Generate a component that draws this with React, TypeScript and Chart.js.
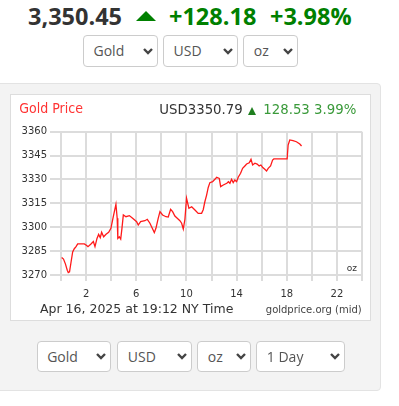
import React, { useEffect, useRef } from "react";
import { Chart, registerables } from "chart.js";

Chart.register(...registerables);

// ---- data (hours of NY trading day, USD/oz) ----
const hours = [
  0.05, 0.2, 0.35, 0.5, 0.58, 0.68, 0.8, 0.93, 1.06, 1.2, 1.33, 1.6, 1.86, 2.05, 2.15, 2.39, 2.58, 2.71, 2.87, 3.0,
  3.13, 3.24, 3.4, 3.59, 3.8, 3.98, 4.17, 4.38, 4.48, 4.53, 4.65, 4.76, 4.86, 4.97, 5.18, 5.45, 5.71, 6.03, 6.16, 6.35,
  6.69, 6.88, 7.09, 7.28, 7.44, 7.57, 7.75, 7.89, 8.1, 8.37, 8.55, 8.74, 8.9, 9.08, 9.27, 9.48, 9.62, 9.75, 9.88, 10.01,
  10.2, 10.42, 10.68, 10.94, 11.21, 11.34, 11.47, 11.61, 11.74, 11.87, 12.09, 12.27, 12.41, 12.62, 12.73, 12.94, 13.22,
  13.35, 13.47, 13.6, 13.73, 13.86, 14.0, 14.13, 14.32, 14.48, 14.66, 14.8, 15.01, 15.15, 15.28, 15.46, 15.64, 15.8,
  15.94, 16.07, 16.25, 16.39, 16.52, 16.71, 16.87, 16.97, 18.03, 18.11, 18.24, 18.5, 18.77, 19.04, 19.18,
];
const prices = [
  3281, 3280, 3277, 3273, 3271.5, 3272, 3278, 3284.5, 3286.5, 3287.8, 3289.5, 3289.5, 3289.5, 3288.5, 3287.8, 3289.5,
  3291, 3287.8, 3293, 3295.5, 3293.4, 3296.8, 3294, 3295.6, 3296.8, 3299.3, 3306.6, 3314.4, 3305.6, 3293, 3294, 3292.6,
  3299.3, 3307.7, 3306.6, 3307.3, 3305.6, 3303.5, 3301.4, 3303.5, 3304.1, 3305, 3302.5, 3299.3, 3296.6, 3299.3, 3305.6,
  3309.8, 3307.7, 3306.6, 3306.4, 3311.3, 3309.8, 3307, 3305.6, 3304.1, 3302.5, 3298.9, 3305, 3318.2, 3311.9, 3312.9,
  3310.8, 3308.7, 3308.7, 3311, 3316, 3320.2, 3325, 3328, 3328.6, 3330.1, 3331.4, 3330.7, 3325.5, 3326.5, 3327.6,
  3328.6, 3327.6, 3330.1, 3328, 3329.7, 3328.6, 3331.4, 3333.9, 3337, 3338.5, 3339.7, 3340.5, 3342.7, 3339.1, 3340.2,
  3339.7, 3338.5, 3339.1, 3337.6, 3336.4, 3335.3, 3337, 3338.5, 3342.2, 3342.9, 3342.9, 3351.6, 3354.8, 3354.4,
  3353.7, 3352.3, 3351,
];
const yMin = 3270;
const yMax = 3360;
const yStep = 15;
const xMin = 0;
const xMax = 24;
const xStep = 2;
const xLabelHours = [2, 6, 10, 14, 18, 22];

const headerPrice = "3,350.45";
const headerChange = "+128.18";
const headerPct = "+3.98%";
const chartTitle = "Gold Price";
const chartPrice = "USD3350.79";
const chartChange = "128.53 3.99%";
const dateText = "Apr 16, 2025 at 19:12 NY Time";
const sourceText = "goldprice.org (mid)";

const OPEN = "'Open Sans', sans-serif";
const DEJA = "'DejaVu Sans', sans-serif";

function Chevron({ left, top }: { left: number; top: number }) {
  return (
    <svg style={{ position: "absolute", left, top }} width={10} height={7}>
      <polyline points="1,1 5,5 9,1" fill="none" stroke="#444" strokeWidth={2.4} />
    </svg>
  );
}

function Select({ left, top, width, height, label }: { left: number; top: number; width: number; height: number; label: string }) {
  return (
    <div
      style={{
        position: "absolute",
        left,
        top,
        width,
        height,
        boxSizing: "border-box",
        border: "1px solid #ccc",
        borderRadius: 4,
        background: "#fff",
      }}
    >
      <div
        style={{
          position: "absolute",
          left: 9.5,
          top: -1,
          height,
          lineHeight: height + "px",
          fontFamily: OPEN,
          fontSize: 14,
          color: "#555",
          whiteSpace: "nowrap",
        }}
      >
        {label}
      </div>
      <Chevron left={width - 16} top={height / 2 - 4.5} />
    </div>
  );
}

function GoldChart() {
  const ref = useRef<HTMLCanvasElement | null>(null);
  useEffect(() => {
    if (!ref.current) return;
    const data = hours.map((h, i) => ({ x: h, y: prices[i] }));
    const gridColor = "#dcdcdc";
    const chart = new Chart(ref.current, {
      type: "line",
      data: {
        datasets: [
          {
            data,
            borderColor: "#ff1a1a",
            borderWidth: 1.3,
            pointRadius: 0,
            tension: 0,
            fill: false,
          },
        ],
      },
      options: {
        animation: false,
        responsive: false,
        events: [],
        layout: { padding: { left: 0, right: 8, top: 36.7, bottom: 0 } },
        plugins: { legend: { display: false }, tooltip: { enabled: false }, title: { display: false } },
        scales: {
          x: {
            type: "linear",
            min: xMin,
            max: xMax,
            afterFit: (s: any) => {
              s.height = 45;
            },
            ticks: {
              stepSize: xStep,
              autoSkip: false,
              maxRotation: 0,
              padding: 7,
              color: "#333",
              font: { family: "DejaVu Sans", size: 10 },
              callback: (v: any) => (xLabelHours.includes(Number(v)) ? String(v) : ""),
            },
            grid: { color: gridColor, lineWidth: 2, tickLength: 6, tickColor: gridColor },
            border: { display: false },
          },
          y: {
            min: yMin,
            max: yMax,
            afterFit: (s: any) => {
              s.width = 50;
            },
            ticks: {
              stepSize: yStep,
              padding: 3,
              color: "#333",
              font: { family: "DejaVu Sans", size: 10 },
              callback: (v: any) => String(v),
            },
            grid: { color: gridColor, lineWidth: 2, tickLength: 11, tickColor: gridColor },
            border: { display: false },
          },
        },
      },
    });
    return () => chart.destroy();
  }, []);
  return <canvas ref={ref} width={359} height={225} style={{ position: "absolute", left: 11, top: 95, width: 359, height: 225 }} />;
}

export default function App() {
  const green = "#008000";
  return (
    <div style={{ position: "absolute", left: 0, top: 0, width: 399, height: 406, overflow: "hidden", background: "#fff" }}>
      {/* header */}
      <div style={{ position: "absolute", left: 28, top: 4.8, fontFamily: OPEN, fontWeight: 700, fontSize: 23.5, lineHeight: "23.5px", color: "#333", whiteSpace: "nowrap" }}>
        {headerPrice}
      </div>
      <div
        style={{
          position: "absolute",
          left: 135.5,
          top: 11,
          width: 0,
          height: 0,
          borderLeft: "10.5px solid transparent",
          borderRight: "10.5px solid transparent",
          borderBottom: "10px solid " + green,
        }}
      />
      <div style={{ position: "absolute", left: 169, top: 4.8, fontFamily: OPEN, fontWeight: 700, fontSize: 23.5, lineHeight: "23.5px", color: green, whiteSpace: "nowrap" }}>
        {headerChange}
      </div>
      <div style={{ position: "absolute", left: 270, top: 4.8, fontFamily: OPEN, fontWeight: 700, fontSize: 23.5, lineHeight: "23.5px", color: green, whiteSpace: "nowrap" }}>
        {headerPct}
      </div>

      <Select left={83} top={35} width={74.5} height={32} label="Gold" />
      <Select left={163} top={35} width={75.3} height={32} label="USD" />
      <Select left={243.3} top={35} width={54.4} height={32} label="oz" />

      {/* panel */}
      <div
        style={{
          position: "absolute",
          left: -5,
          top: 83.3,
          width: 386,
          height: 307.5,
          boxSizing: "border-box",
          background: "#f3f3f3",
          border: "1px solid #e3e3e3",
          borderRadius: 4,
        }}
      />
      <div
        style={{
          position: "absolute",
          left: 10.3,
          top: 94.3,
          width: 360.4,
          height: 226.4,
          boxSizing: "border-box",
          background: "#fff",
          border: "1px solid #dddddd",
        }}
      />
      <GoldChart />

      <div style={{ position: "absolute", left: 19.3, top: 100.9, fontFamily: "'DejaVu Sans Condensed', 'DejaVu Sans', sans-serif", fontSize: 14, lineHeight: "14px", color: "#ff3333", whiteSpace: "nowrap" }}>
        {chartTitle}
      </div>
      <div style={{ position: "absolute", right: 399 - 242.7, top: 103.2, fontFamily: DEJA, fontSize: 13.3, lineHeight: "13.3px", color: "#333", whiteSpace: "nowrap" }}>
        {chartPrice}
      </div>
      <div
        style={{
          position: "absolute",
          left: 248.3,
          top: 107.2,
          width: 0,
          height: 0,
          borderLeft: "4.8px solid transparent",
          borderRight: "4.8px solid transparent",
          borderBottom: "8.4px solid #1f7f1f",
        }}
      />
      <div style={{ position: "absolute", left: 263.3, top: 103.2, fontFamily: DEJA, fontSize: 13.3, lineHeight: "13.3px", color: "#3a9a3a", whiteSpace: "nowrap" }}>
        {chartChange}
      </div>

      <div style={{ position: "absolute", left: 346.7, top: 264.4, fontFamily: DEJA, fontSize: 9, lineHeight: "9px", color: "#333", whiteSpace: "nowrap" }}>
        oz
      </div>
      <div style={{ position: "absolute", left: 40, top: 303.4, fontFamily: DEJA, fontSize: 12.5, lineHeight: "12.5px", color: "#333", whiteSpace: "nowrap" }}>
        {dateText}
      </div>
      <div style={{ position: "absolute", right: 399 - 361.7, top: 305, fontFamily: DEJA, fontSize: 10, lineHeight: "10px", color: "#444", whiteSpace: "nowrap" }}>
        {sourceText}
      </div>

      <Select left={36.7} top={340.7} width={74.3} height={31.6} label="Gold" />
      <Select left={117.3} top={340.7} width={74.4} height={31.6} label="USD" />
      <Select left={197.3} top={340.7} width={54} height={31.6} label="oz" />
      <Select left={256.3} top={340.7} width={89} height={31.6} label="1 Day" />
    </div>
  );
}
